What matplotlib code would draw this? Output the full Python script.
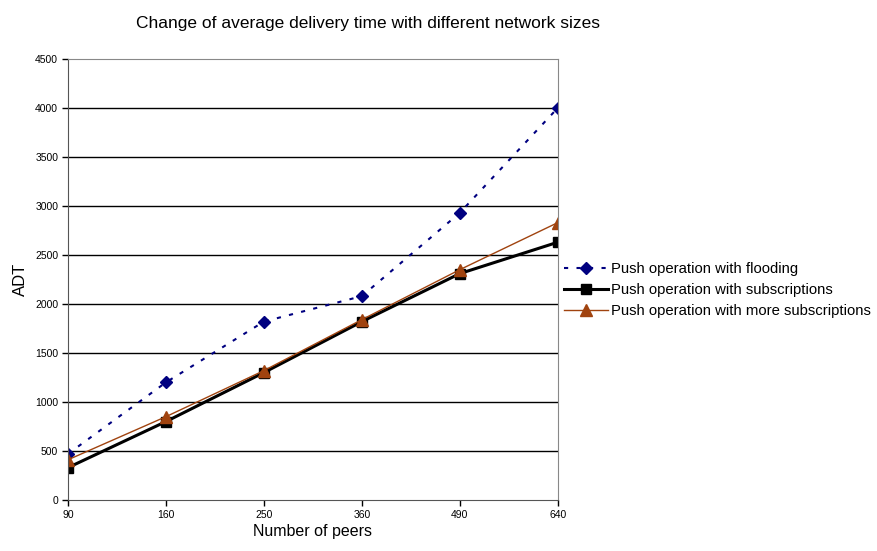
import matplotlib
matplotlib.use("Agg")
import matplotlib.pyplot as plt
import numpy as np

plt.rcParams['font.family'] = ['Liberation Sans', 'DejaVu Sans']

peers = ["90", "160", "250", "360", "490", "640"]
flooding = [470, 1200, 1820, 2080, 2930, 4000]
subscriptions = [330, 800, 1300, 1820, 2310, 2630]
more_subscriptions = [410, 850, 1320, 1840, 2350, 2830]

fig = plt.figure(figsize=(8.77, 5.51), dpi=100)
ax = fig.add_axes([0.0775, 0.0926, 0.5585, 0.8004])

x = np.arange(len(peers))

ax.plot(x, flooding, color='#000080', linestyle=(0, (2, 4)), linewidth=1.5,
        marker='D', markersize=6, label='Push operation with flooding')
ax.plot(x, subscriptions, color='black', linewidth=2.2,
        marker='s', markersize=7, label='Push operation with subscriptions')
ax.plot(x, more_subscriptions, color='#A0430F', linewidth=1,
        marker='^', markersize=8, label='Push operation with more subscriptions')

ax.set_xlim(0, len(peers) - 1)
ax.set_ylim(0, 4500)
ax.set_xticks(x)
ax.set_xticklabels(peers)
ax.set_yticks(np.arange(0, 4501, 500))
ax.tick_params(labelsize=7.5, length=4, width=1, direction='out', pad=3)

for y in range(500, 4500, 500):
    ax.axhline(y, color='black', linewidth=1, zorder=0)

for side in ['left', 'bottom']:
    ax.spines[side].set_color('#555555')
for side in ['top', 'right']:
    ax.spines[side].set_color('#888888')

ax.set_xlabel('Number of peers', fontsize=11.5, labelpad=3)
ax.set_ylabel('ADT', fontsize=12, labelpad=5)

fig.text(0.42, 0.958, 'Change of average delivery time with different network sizes',
         ha='center', va='center', fontsize=12.5)

ax.legend(loc='center left', bbox_to_anchor=(1.0, 0.476), frameon=False,
          fontsize=10.7, handlelength=3.0, handletextpad=0.15, labelspacing=0.45,
          borderaxespad=0.2, borderpad=0.2)

fig.savefig('out.png', dpi=100)
